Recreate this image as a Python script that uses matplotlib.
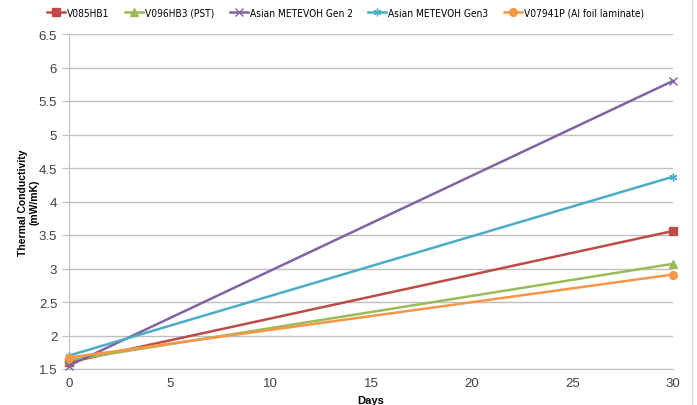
import matplotlib.pyplot as plt
from matplotlib import font_manager

days = [0, 30]
series_names = ["V085HB1", "V096HB3 (PST)", "Asian METEVOH Gen 2",
                "Asian METEVOH Gen3", "V07941P (Al foil laminate)"]
v085hb1 = [1.60, 3.56]
v096hb3 = [1.63, 3.07]
gen2 = [1.55, 5.80]
gen3 = [1.70, 4.37]
v07941p = [1.67, 2.91]

colors = ["#BE4B48", "#9BBB59", "#8064A2", "#4BACC6", "#F79646"]
markers = ["s", "^", "x", (6, 2, 0), "o"]

plt.rcParams["font.family"] = ["Liberation Sans", "DejaVu Sans"]

# a condensed face for the legend, if one is installed
condensed = [f for f in font_manager.fontManager.ttflist
             if f.stretch in ("condensed", "semi-condensed") and f.style == "normal"
             and f.weight in (400, "normal", "regular")]
if condensed:
    leg_font = font_manager.FontProperties(fname=condensed[0].fname, size=7.3)
else:
    leg_font = font_manager.FontProperties(family="Liberation Sans", size=6.8)

fig = plt.figure(figsize=(6.97, 4.06), dpi=100)
ax = fig.add_axes([69 / 697, 1 - 370 / 406, (673 - 69) / 697, (370 - 35) / 406])

for name, vals, c, m in zip(series_names, [v085hb1, v096hb3, gen2, gen3, v07941p],
                            colors, markers):
    ax.plot(days, vals, color=c, lw=1.8, marker=m, ms=5.5, mew=1, label=name,
            clip_on=False, zorder=3)

ax.set_xlim(0, 30)
ax.set_ylim(1.5, 6.5)
ax.set_xticks(range(0, 31, 5))
ax.set_yticks([1.5, 2, 2.5, 3, 3.5, 4, 4.5, 5, 5.5, 6, 6.5])
ax.set_yticklabels(["1.5", "2", "2.5", "3", "3.5", "4", "4.5", "5", "5.5", "6", "6.5"])
ax.grid(axis="y", color="#BFBFBF", lw=1)
ax.set_axisbelow(True)
for s in ["top", "right"]:
    ax.spines[s].set_visible(False)
for s in ["left", "bottom"]:
    ax.spines[s].set_color("#BFBFBF")
ax.tick_params(axis="both", colors="#BFBFBF", labelcolor="#404040", labelsize=9.5, length=5)
ax.tick_params(axis="x", length=0, pad=6)

ax.set_xlabel("Days", fontsize=8, fontweight="bold", labelpad=4)
ax.set_ylabel("Thermal Conductivity\n(mW/mK)", fontsize=7.5, fontweight="bold",
              linespacing=1.3)
ax.yaxis.set_label_coords(-29 / 604, 0.5)

fig.legend(*ax.get_legend_handles_labels(), loc="center left",
           bbox_to_anchor=(47 / 697, 1 - 14 / 406), ncol=5, frameon=False,
           prop=leg_font, handlelength=1.8, handletextpad=0.2, columnspacing=1.5,
           borderaxespad=0, borderpad=0)

# outer chart frame edge on the right
fig.add_artist(plt.Line2D([692 / 697, 692 / 697], [0, 1], color="#D9D9D9", lw=1))

fig.savefig("out.png", dpi=100)
